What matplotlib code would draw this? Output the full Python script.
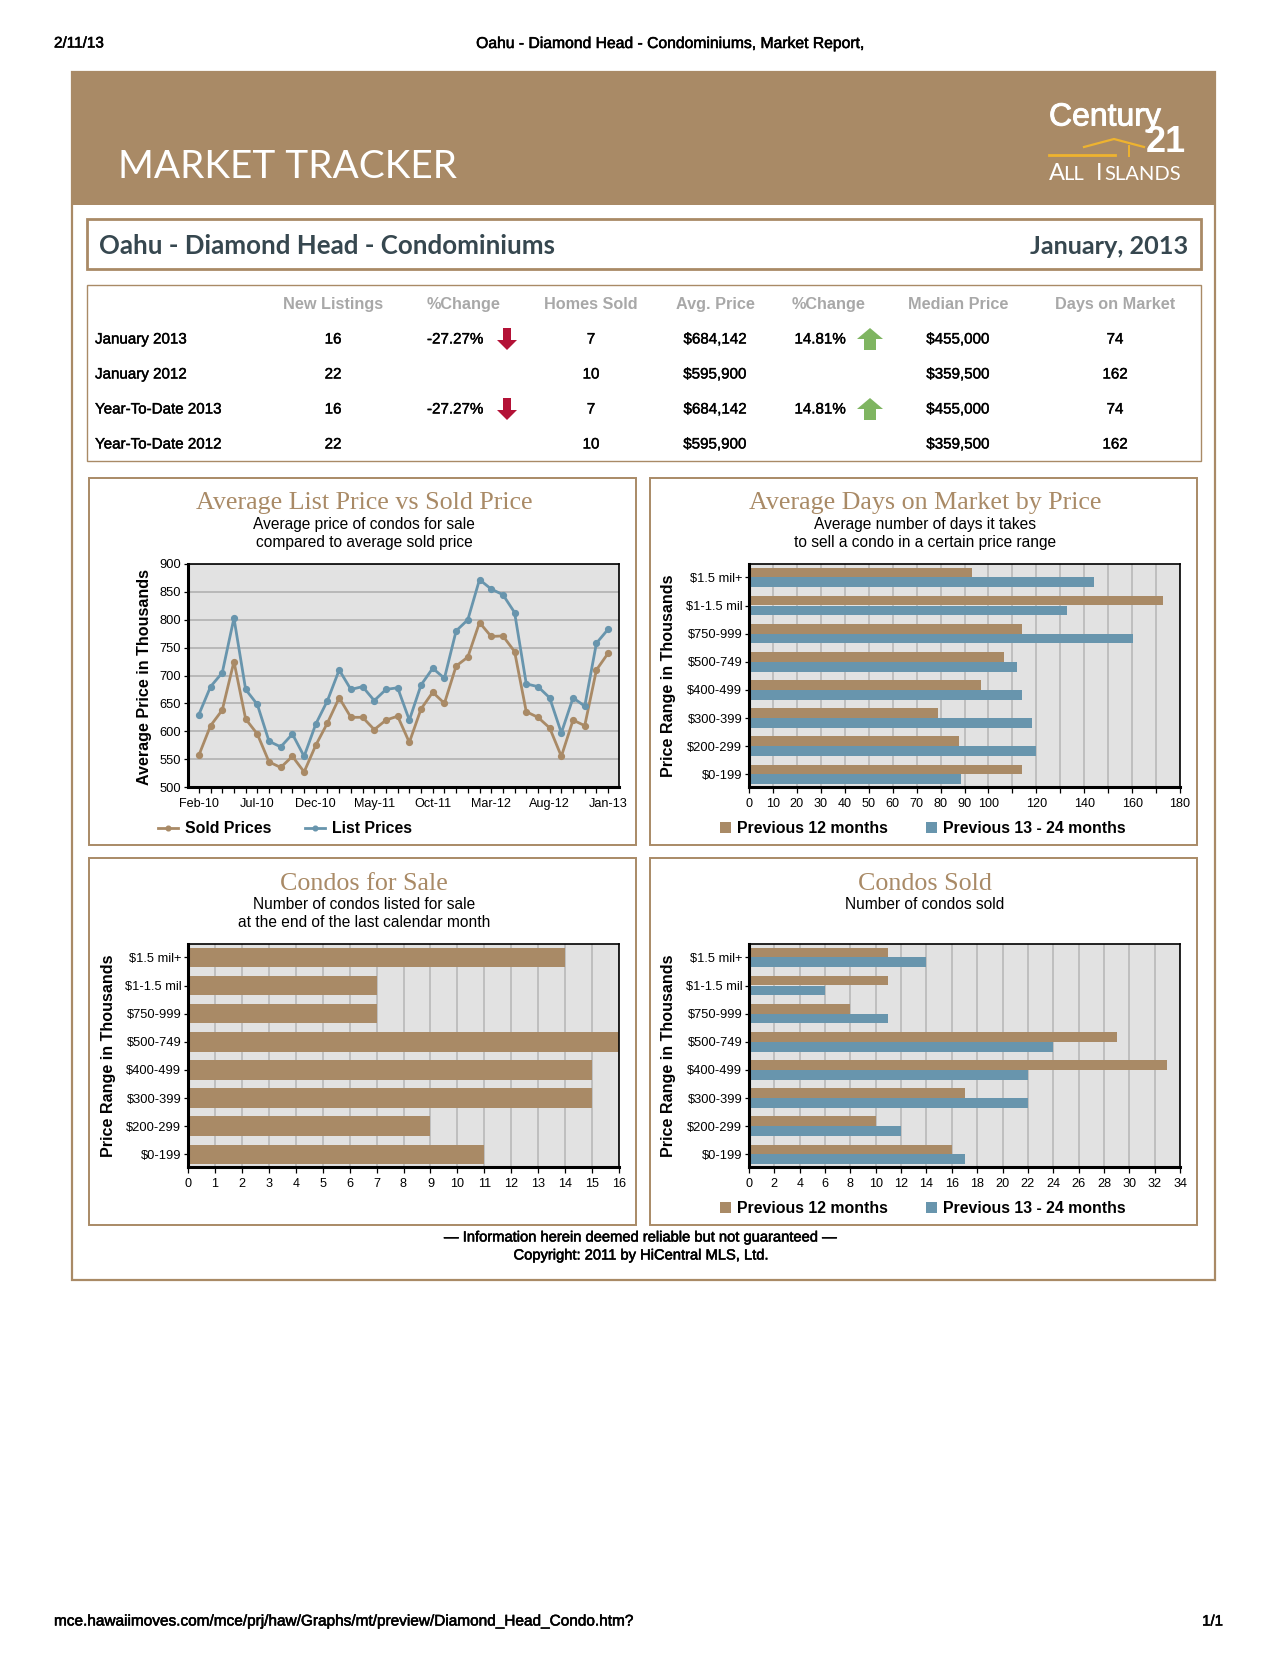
import matplotlib
matplotlib.use('Agg')
import matplotlib.pyplot as plt
import matplotlib.patheffects as pe
from matplotlib.patches import Rectangle, Polygon
from matplotlib.lines import Line2D

W, H = 1275, 1662
TAN = '#a98a66'
BLUE = '#6895ad'
PLOT_BG = '#e2e2e2'
GRID = '#b8b8b8'
SANS = 'Liberation Sans'

# line chart
months = ['Feb-10', 'Mar-10', 'Apr-10', 'May-10', 'Jun-10', 'Jul-10', 'Aug-10', 'Sep-10', 'Oct-10',
          'Nov-10', 'Dec-10', 'Jan-11', 'Feb-11', 'Mar-11', 'Apr-11', 'May-11', 'Jun-11', 'Jul-11',
          'Aug-11', 'Sep-11', 'Oct-11', 'Nov-11', 'Dec-11', 'Jan-12', 'Feb-12', 'Mar-12', 'Apr-12',
          'May-12', 'Jun-12', 'Jul-12', 'Aug-12', 'Sep-12', 'Oct-12', 'Nov-12', 'Dec-12', 'Jan-13']
sold_prices = [557, 610, 638, 725, 622, 595, 545, 535, 555, 527, 575, 615, 660, 625, 625, 603, 620, 627,
               580, 640, 670, 650, 717, 733, 795, 770, 771, 743, 635, 625, 606, 555, 620, 610, 710, 740]
list_prices = [630, 680, 705, 803, 675, 648, 582, 572, 595, 555, 613, 655, 710, 675, 680, 655, 675, 678,
               620, 683, 713, 695, 780, 800, 872, 855, 845, 813, 685, 680, 660, 597, 660, 645, 758, 783]

# bar charts
price_ranges = ['$1.5 mil+', '$1-1.5 mil', '$750-999', '$500-749', '$400-499', '$300-399', '$200-299', '$0-199']
days_prev12 = [93, 173, 114, 106.5, 97, 79, 87.5, 114]
days_prev24 = [144, 133, 160.5, 112, 114, 118, 120, 88.5]
for_sale = [14, 7, 7, 16, 15, 15, 9, 11]
sold_prev12 = [11, 11, 8, 29, 33, 17, 10, 16]
sold_prev24 = [14, 6, 11, 24, 22, 22, 12, 17]

# table
table_cols = ['New Listings', '%Change', 'Homes Sold', 'Avg. Price', '%Change', 'Median Price', 'Days on Market']
row_names = ['January 2013', 'January 2012', 'Year-To-Date 2013', 'Year-To-Date 2012']
new_listings = ['16', '22', '16', '22']
listing_change = ['-27.27%', '', '-27.27%', '']
homes_sold = ['7', '10', '7', '10']
avg_price = ['$684,142', '$595,900', '$684,142', '$595,900']
price_change = ['14.81%', '', '14.81%', '']
median_price = ['$455,000', '$359,500', '$455,000', '$359,500']
days_on_market = ['74', '162', '74', '162']

fig = plt.figure(figsize=(W / 100, H / 100), dpi=100, facecolor='white')
plt.rcParams['font.family'] = SANS

# page layer in pixel coordinates
page = fig.add_axes([0, 0, 1, 1], zorder=0)
page.set_xlim(0, W)
page.set_ylim(H, 0)
page.axis('off')


def txt(x, y, s, size, color='black', ha='center', fake_bold=0.0, **kw):
    t = page.text(x, y, s, fontsize=size, color=color, ha=ha, va='center_baseline', **kw)
    if fake_bold:
        t.set_path_effects([pe.withStroke(linewidth=fake_bold, foreground=color)])
    return t


def vtxt(x, y, s):
    page.text(x, y, s, fontsize=11.6, color='black', ha='center', va='center', rotation=90, weight='bold')


def box(x0, y0, x1, y1, lw=1.4, **kw):
    page.add_patch(Rectangle((x0, y0), x1 - x0, y1 - y0, fill=False, edgecolor=TAN, linewidth=lw, **kw))


# browser header / footer
txt(54, 42, '2/11/13', 11, ha='left', fake_bold=0.4)
txt(671, 42, 'Oahu - Diamond Head - Condominiums, Market Report,', 11.3, fake_bold=0.4)
txt(54, 1620, 'mce.hawaiimoves.com/mce/prj/haw/Graphs/mt/preview/Diamond_Head_Condo.htm?', 11.07, ha='left', fake_bold=0.4)
txt(1223, 1620, '1/1', 10.8, ha='right', fake_bold=0.4)

# main panel and banner
box(72, 72, 1215, 1280, lw=1.6)
page.add_patch(Rectangle((72, 72), 1143, 133, color=TAN, linewidth=0))
txt(118, 164, 'MARKET TRACKER', 27.9, color='white', ha='left', family='Lato')

# logo
txt(1049, 114, 'Century', 23, color='white', ha='left', fake_bold=0.7)
txt(1146, 138, '21', 26, color='white', ha='left', weight='bold')
page.add_line(Line2D([1049, 1115], [155, 155], color='#eeb32f', lw=2))
page.add_line(Line2D([1084, 1114, 1144], [147, 139, 147], color='#eeb32f', lw=1.6))
page.add_line(Line2D([1129, 1129], [146, 156], color='#eeb32f', lw=1.4))
txt(1049, 172, 'A', 17, color='white', ha='left', family='Lato')
txt(1063, 173, 'LL', 14.5, color='white', ha='left', family='Lato')
txt(1096, 172, 'I', 17, color='white', ha='left', family='Lato')
txt(1104, 173, 'SLANDS', 14.5, color='white', ha='left', family='Lato')

# title box
box(87, 219, 1201, 269, lw=2)
txt(99, 244, 'Oahu - Diamond Head - Condominiums', 18.6, color='#36474f', ha='left', family='Lato', weight='bold')
txt(1188, 244, 'January, 2013', 18.2, color='#36474f', ha='right', family='Lato', weight='bold')

# table
box(87, 285, 1201, 461, lw=1)
col_x = [333, 464, 591, 715, 829, 958, 1115]
row_y = [338, 373, 408, 443]
for x, name in zip(col_x, table_cols):
    txt(x, 303, name, 11.7, color='#a8a8a8', weight='bold')
for y, name in zip(row_y, row_names):
    txt(95, y, name, 10.9, ha='left', fake_bold=0.3)
table_data = [new_listings, listing_change, homes_sold, avg_price, price_change, median_price, days_on_market]
data_x = [333, 455, 591, 715, 820, 958, 1115]
for x, col in zip(data_x, table_data):
    for y, val in zip(row_y, col):
        txt(x, y, val, 10.9, fake_bold=0.3)


def arrow(x, y, color, up):
    # block arrow icons
    if up:
        pts = [(-6, 11), (6, 11), (6, 0), (13, 0), (0, -11), (-13, 0), (-6, 0)]
    else:
        pts = [(-4, -11), (4, -11), (4, 1), (10, 1), (0, 11), (-10, 1), (-4, 1)]
    page.add_patch(Polygon([(x + a, y + b) for a, b in pts], color=color, linewidth=0))


for y in (339, 409):
    arrow(507, y, '#b31237', False)
    arrow(870, y, '#7fb561', True)


def chart_axes(x0, y0, x1, y1):
    ax = fig.add_axes([x0 / W, 1 - y1 / H, (x1 - x0) / W, (y1 - y0) / H], zorder=2)
    ax.set_facecolor(PLOT_BG)
    ax.set_axisbelow(True)
    for side in ('left', 'bottom'):
        ax.spines[side].set_linewidth(2.2)
    for side in ('top', 'right'):
        ax.spines[side].set_linewidth(1.2)
    ax.tick_params(axis='y', length=2.8, width=0.9, pad=2, labelsize=9.3)
    ax.tick_params(axis='x', length=4.5, width=0.9, pad=3.5, labelsize=9.1)
    return ax


def chart_frame(x0, y0, title, sub):
    cx = x0 + 275
    box(x0, y0, x0 + 547, y0 + 367, lw=1.4)
    txt(cx, y0 + 23, title, 18.7, color=TAN, family='Liberation Serif')
    for i, line in enumerate(sub):
        txt(cx, y0 + 45 + i * 18, line, 11.2)


def bar_chart(x0, y0, title, sub, xmax, major, labels, series):
    chart_frame(x0, y0, title, sub)
    ax = chart_axes(x0 + 99, y0 + 86, x0 + 530, y0 + 309)
    ypos = range(len(price_ranges))
    if len(series) == 1:
        ax.barh(ypos, series[0], height=0.69, color=TAN, linewidth=0)
    else:
        ax.barh([p - 0.175 for p in ypos], series[0], height=0.345, color=TAN, linewidth=0, label='Previous 12 months')
        ax.barh([p + 0.175 for p in ypos], series[1], height=0.345, color=BLUE, linewidth=0, label='Previous 13 - 24 months')
        ax.legend(loc='center left', bbox_to_anchor=(-0.068, -0.187), ncol=2, frameon=False,
                  prop={'size': 11.4, 'weight': 'bold', 'family': SANS}, handlelength=0.7, handleheight=0.7,
                  handletextpad=0.4, columnspacing=2.38, borderpad=0, borderaxespad=0)
    ax.set_yticks(list(ypos), price_ranges)
    ax.set_ylim(7.45, -0.476)
    ax.set_xlim(0, xmax)
    ax.set_xticks(major, labels)
    ax.grid(axis='x', color=GRID, linewidth=1.2)
    vtxt(x0 + 19, y0 + 198, 'Price Range in Thousands')
    return ax


# average list price vs sold price
chart_frame(89, 478, 'Average List Price vs Sold Price',
            ['Average price of condos for sale', 'compared to average sold price'])
ax = chart_axes(188, 564, 619, 787)
xs = range(len(months))
ax.plot(xs, sold_prices, color=TAN, lw=2, marker='o', ms=4.2, label='Sold Prices')
ax.plot(xs, list_prices, color=BLUE, lw=2, marker='o', ms=4.2, label='List Prices')
ax.set_xlim(-0.93, 35.93)
ax.set_ylim(500, 900)
ax.set_yticks(range(500, 901, 50))
ax.set_xticks(list(xs), [m if i % 5 == 0 else '' for i, m in enumerate(months)])
ax.grid(axis='y', color=GRID, linewidth=1.4)
ax.legend(loc='center left', bbox_to_anchor=(-0.07, -0.187), ncol=2, frameon=False,
          prop={'size': 11.4, 'weight': 'bold', 'family': SANS}, handlelength=1.3, handletextpad=0.42,
          columnspacing=2.1, borderpad=0, borderaxespad=0, markerscale=0.8)
vtxt(145, 677, 'Average Price in Thousands')

# average days on market
days_major = list(range(0, 181, 10))
days_labels = [str(v) if v <= 100 or v % 20 == 0 else '' for v in days_major]
bar_chart(650, 478, 'Average Days on Market by Price',
          ['Average number of days it takes', 'to sell a condo in a certain price range'],
          180, days_major, days_labels, [days_prev12, days_prev24])

# condos for sale
sale_major = list(range(0, 17))
bar_chart(89, 858, 'Condos for Sale',
          ['Number of condos listed for sale', 'at the end of the last calendar month'],
          16, sale_major, [str(v) for v in sale_major], [for_sale])

# condos sold
sold_major = list(range(0, 35, 2))
bar_chart(650, 858, 'Condos Sold', ['Number of condos sold'],
          34, sold_major, [str(v) for v in sold_major], [sold_prev12, sold_prev24])

# disclaimer
txt(642, 1236, '\u2014 Information herein deemed reliable but not guaranteed \u2014', 10.6, fake_bold=0.4)
txt(642, 1254, 'Copyright: 2011 by HiCentral MLS, Ltd.', 10.6, fake_bold=0.4)

fig.savefig('out.png', dpi=100)
